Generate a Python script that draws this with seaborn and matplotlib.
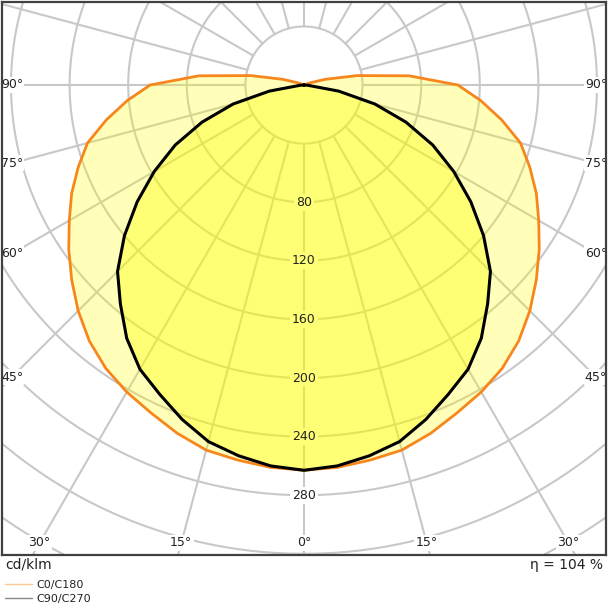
import numpy as np
import pandas as pd
import matplotlib.pyplot as plt
import seaborn as sns
from matplotlib.lines import Line2D

# luminous intensity (cd/klm); both planes are symmetric
gamma_c0 = [0, 5, 10, 15, 20, 25, 30, 35, 40, 45, 50, 55, 60, 65, 70, 75, 80, 85, 90, 95, 100, 105, 110, 115]
cd_c0 = [263, 262, 260, 258, 253, 247, 242, 236, 228, 218, 207, 196, 185, 175, 164, 153, 137, 121, 105, 72, 37, 15, 4, 0]

gamma_c90 = [0, 5, 10, 15, 20, 25, 30, 35, 40, 45, 50, 55, 60, 65, 70, 75, 80, 85, 90]
cd_c90 = [263, 261, 257, 252, 243, 233, 224, 211, 195, 180, 160, 139, 118, 97, 74, 50, 24, 3, 0]

ring_values = [40, 80, 120, 160, 200, 240, 280, 320, 360, 400]
ring_labels = [80, 120, 160, 200, 240, 280]
side_angles = [90, 75, 60, 45]
bottom_angles = [30, 15, 0, 15, 30]
bottom_signs = [-1, -1, 0, 1, 1]

unit_label = "cd/klm"
eta_label = "η = 104 %"
legend_names = ["C0/C180", "C90/C270"]


def to_xy(gamma, cd):
    g = np.radians(np.asarray(gamma, dtype=float))
    r = np.asarray(cd, dtype=float)
    # full curve: left half (C180 / C270) then right half (C0 / C90)
    x = np.concatenate([-(r * np.sin(g))[::-1], (r * np.sin(g))[1:]])
    y = np.concatenate([-(r * np.cos(g))[::-1], -(r * np.cos(g))[1:]])
    return pd.DataFrame({"x": x, "y": y})


sns.set_style("white")
plt.rcParams["font.family"] = ["DejaVu Sans"]

W = 608
fig = plt.figure(figsize=(6.08, 6.08), dpi=100)
ax = fig.add_axes([2 / W, 53 / W, 604 / W, 553 / W])

px = 1.465  # pixels per cd/klm
xmax = 302 / px
ax.set_xlim(-xmax, xmax)
ax.set_ylim(-470 / px, 83 / px)

grid_c = "#c8c8c8"
t = np.linspace(0, 2 * np.pi, 721)
for r in ring_values:
    ax.plot(r * np.cos(t), r * np.sin(t), color=grid_c, lw=1.5, zorder=1)
for a in range(0, 360, 15):
    ar = np.radians(a)
    ax.plot([40 * np.sin(ar), 600 * np.sin(ar)], [-40 * np.cos(ar), -600 * np.cos(ar)],
            color=grid_c, lw=1.5, zorder=1)

# ring labels: bbox under the fills so it takes the same tint
for v in ring_labels:
    ax.text(0, -v, str(v), ha="center", va="center", fontsize=9, color="none", zorder=2,
            bbox=dict(boxstyle="square,pad=0.15", fc="white", ec="none"))
    ax.text(0, -v, str(v), ha="center", va="center", fontsize=9, color="#222222", zorder=6)

c0 = to_xy(gamma_c0, cd_c0)
c90 = to_xy(gamma_c90, cd_c90)
ax.fill(c0["x"], c0["y"], color="#ffff00", alpha=0.27, lw=0, zorder=3)
ax.fill(c90["x"], c90["y"], color="#ffff00", alpha=0.36, lw=0, zorder=3)
sns.lineplot(data=c0, x="x", y="y", sort=False, estimator=None, color="#f7861c", lw=2.0, ax=ax, zorder=4)
sns.lineplot(data=c90, x="x", y="y", sort=False, estimator=None, color="black", lw=2.2, ax=ax, zorder=5)

# angle labels where the rays meet a slightly inset frame
xin = xmax - 10 / px
yin = -470 / px + 12 / px
lbl_kw = dict(ha="center", va="center", fontsize=9, color="#222222", zorder=7, clip_on=True,
              bbox=dict(boxstyle="square,pad=0.1", fc="white", ec="none"))
for a in side_angles:
    ar = np.radians(a)
    y = -xin / np.tan(ar) if a != 90 else 0
    ax.text(-xin, y, f"{a}°", **lbl_kw)
    ax.text(xin, y, f"{a}°", **lbl_kw)
for a, s in zip(bottom_angles, bottom_signs):
    x = s * abs(yin) * np.tan(np.radians(a))
    ax.text(x, yin, f"{a}°", **lbl_kw)

ax.set_xlabel("")
ax.set_ylabel("")
ax.set_xticks([])
ax.set_yticks([])
for sp in ax.spines.values():
    sp.set_color("#404040")
    sp.set_linewidth(1.6)
    sp.set_zorder(10)

fig.text(5 / W, 1 - 565 / W, unit_label, ha="left", va="center", fontsize=10, color="#222222")
fig.text(603 / W, 1 - 565 / W, eta_label, ha="right", va="center", fontsize=10, color="#222222")

handles = [Line2D([], [], color="#ffc891", lw=1), Line2D([], [], color="#888888", lw=1)]
fig.legend(handles, legend_names, loc="upper left", bbox_to_anchor=(5 / W, 1 - 580 / W),
           frameon=False, fontsize=8, handlelength=2.4, handletextpad=0.45,
           labelspacing=0.35, borderpad=0.0, borderaxespad=0.0, labelcolor="#222222")

fig.savefig("out.png", dpi=100)
